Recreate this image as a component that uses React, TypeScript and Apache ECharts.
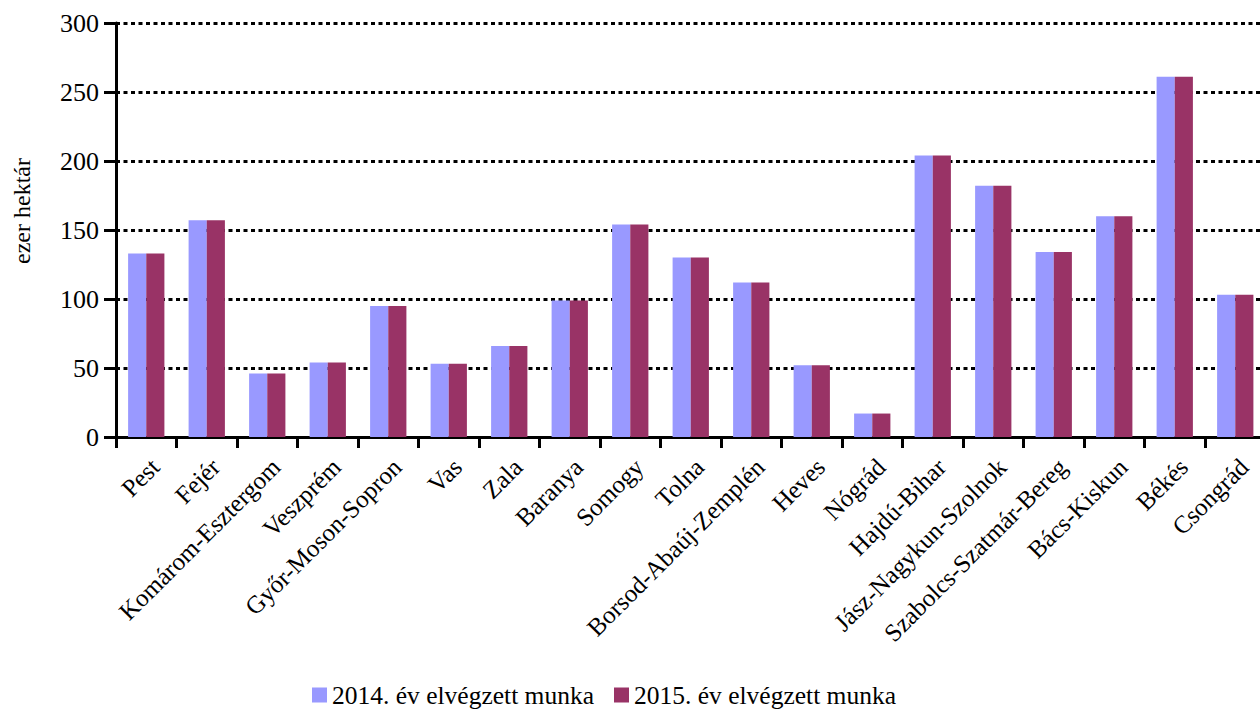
import React, { useEffect, useRef } from "react";
import * as echarts from "echarts";

const categories = [
  "Pest", "Fejér", "Komárom-Esztergom", "Veszprém", "Győr-Moson-Sopron", "Vas", "Zala",
  "Baranya", "Somogy", "Tolna", "Borsod-Abaúj-Zemplén", "Heves", "Nógrád", "Hajdú-Bihar",
  "Jász-Nagykun-Szolnok", "Szabolcs-Szatmár-Bereg", "Bács-Kiskun", "Békés", "Csongrád",
];
const values2014 = [133, 157, 46, 54, 95, 53, 66, 99, 154, 130, 112, 52, 17, 204, 182, 134, 160, 261, 103];
const values2015 = [133, 157, 46, 54, 95, 53, 66, 99, 154, 130, 112, 52, 17, 204, 182, 134, 160, 261, 103];
const seriesNames = ["2014. év elvégzett munka", "2015. év elvégzett munka"];
const yAxisTitle = "ezer hektár";
const yMin = 0;
const yMax = 300;
const yInterval = 50;

const FONT = "'Liberation Serif', 'Times New Roman', serif";

export default function App() {
  const ref = useRef<HTMLDivElement>(null);
  useEffect(() => {
    if (!ref.current) return;
    const chart = echarts.init(ref.current, undefined, { renderer: "svg" });
    chart.setOption({
      animation: false,
      backgroundColor: "#ffffff",
      textStyle: { fontFamily: FONT, color: "#000" },
      grid: {
        left: 116,
        right: 4.5,
        top: 23,
        bottom: 273,
        containLabel: false,
        outerBoundsMode: "none",
      },
      legend: {
        data: seriesNames,
        left: 307,
        top: 677,
        itemWidth: 15,
        itemHeight: 15,
        itemGap: 20,
        icon: "rect",
        textStyle: { fontFamily: FONT, fontSize: 25.5, color: "#000" },
      },
      graphic: [
        {
          type: "text",
          x: 22,
          y: 211,
          rotation: Math.PI / 2,
          style: {
            text: yAxisTitle,
            fontFamily: FONT,
            fontSize: 24,
            fill: "#000",
            align: "center",
            verticalAlign: "middle",
          },
        },
      ],
      xAxis: {
        type: "category",
        data: categories,
        boundaryGap: true,
        axisLine: { show: true, lineStyle: { color: "#000", width: 3 } },
        axisTick: { show: true, length: 11, lineStyle: { color: "#000", width: 3 } },
        axisLabel: {
          interval: 0,
          rotate: 45,
          margin: 17,
          verticalAlign: "top",
          fontFamily: FONT,
          fontSize: 25,
          color: "#000",
        },
        splitLine: { show: false },
      },
      yAxis: {
        type: "value",
        min: yMin,
        max: yMax,
        interval: yInterval,
        axisLine: { show: true, lineStyle: { color: "#000", width: 3 } },
        axisTick: { show: true, length: 12, lineStyle: { color: "#000", width: 3 } },
        axisLabel: { margin: 17, fontFamily: FONT, fontSize: 26, color: "#000" },
        splitLine: {
          show: true,
          lineStyle: { color: "#000", width: 3, type: [4, 3.5] },
        },
      },
      series: [
        {
          name: seriesNames[0],
          type: "bar",
          data: values2014,
          itemStyle: { color: "#9999FF" },
          barGap: "0%",
          barCategoryGap: "40%",
        },
        {
          name: seriesNames[1],
          type: "bar",
          data: values2015,
          itemStyle: { color: "#993366" },
          barGap: "0%",
          barCategoryGap: "40%",
        },
      ],
    });
    return () => chart.dispose();
  }, []);
  return (
    <div
      style={{
        position: "fixed",
        left: 0,
        top: 0,
        width: 1260,
        height: 710,
        overflow: "hidden",
        background: "#fff",
      }}
    >
      <div ref={ref} style={{ width: 1270, height: 710 }} />
    </div>
  );
}
